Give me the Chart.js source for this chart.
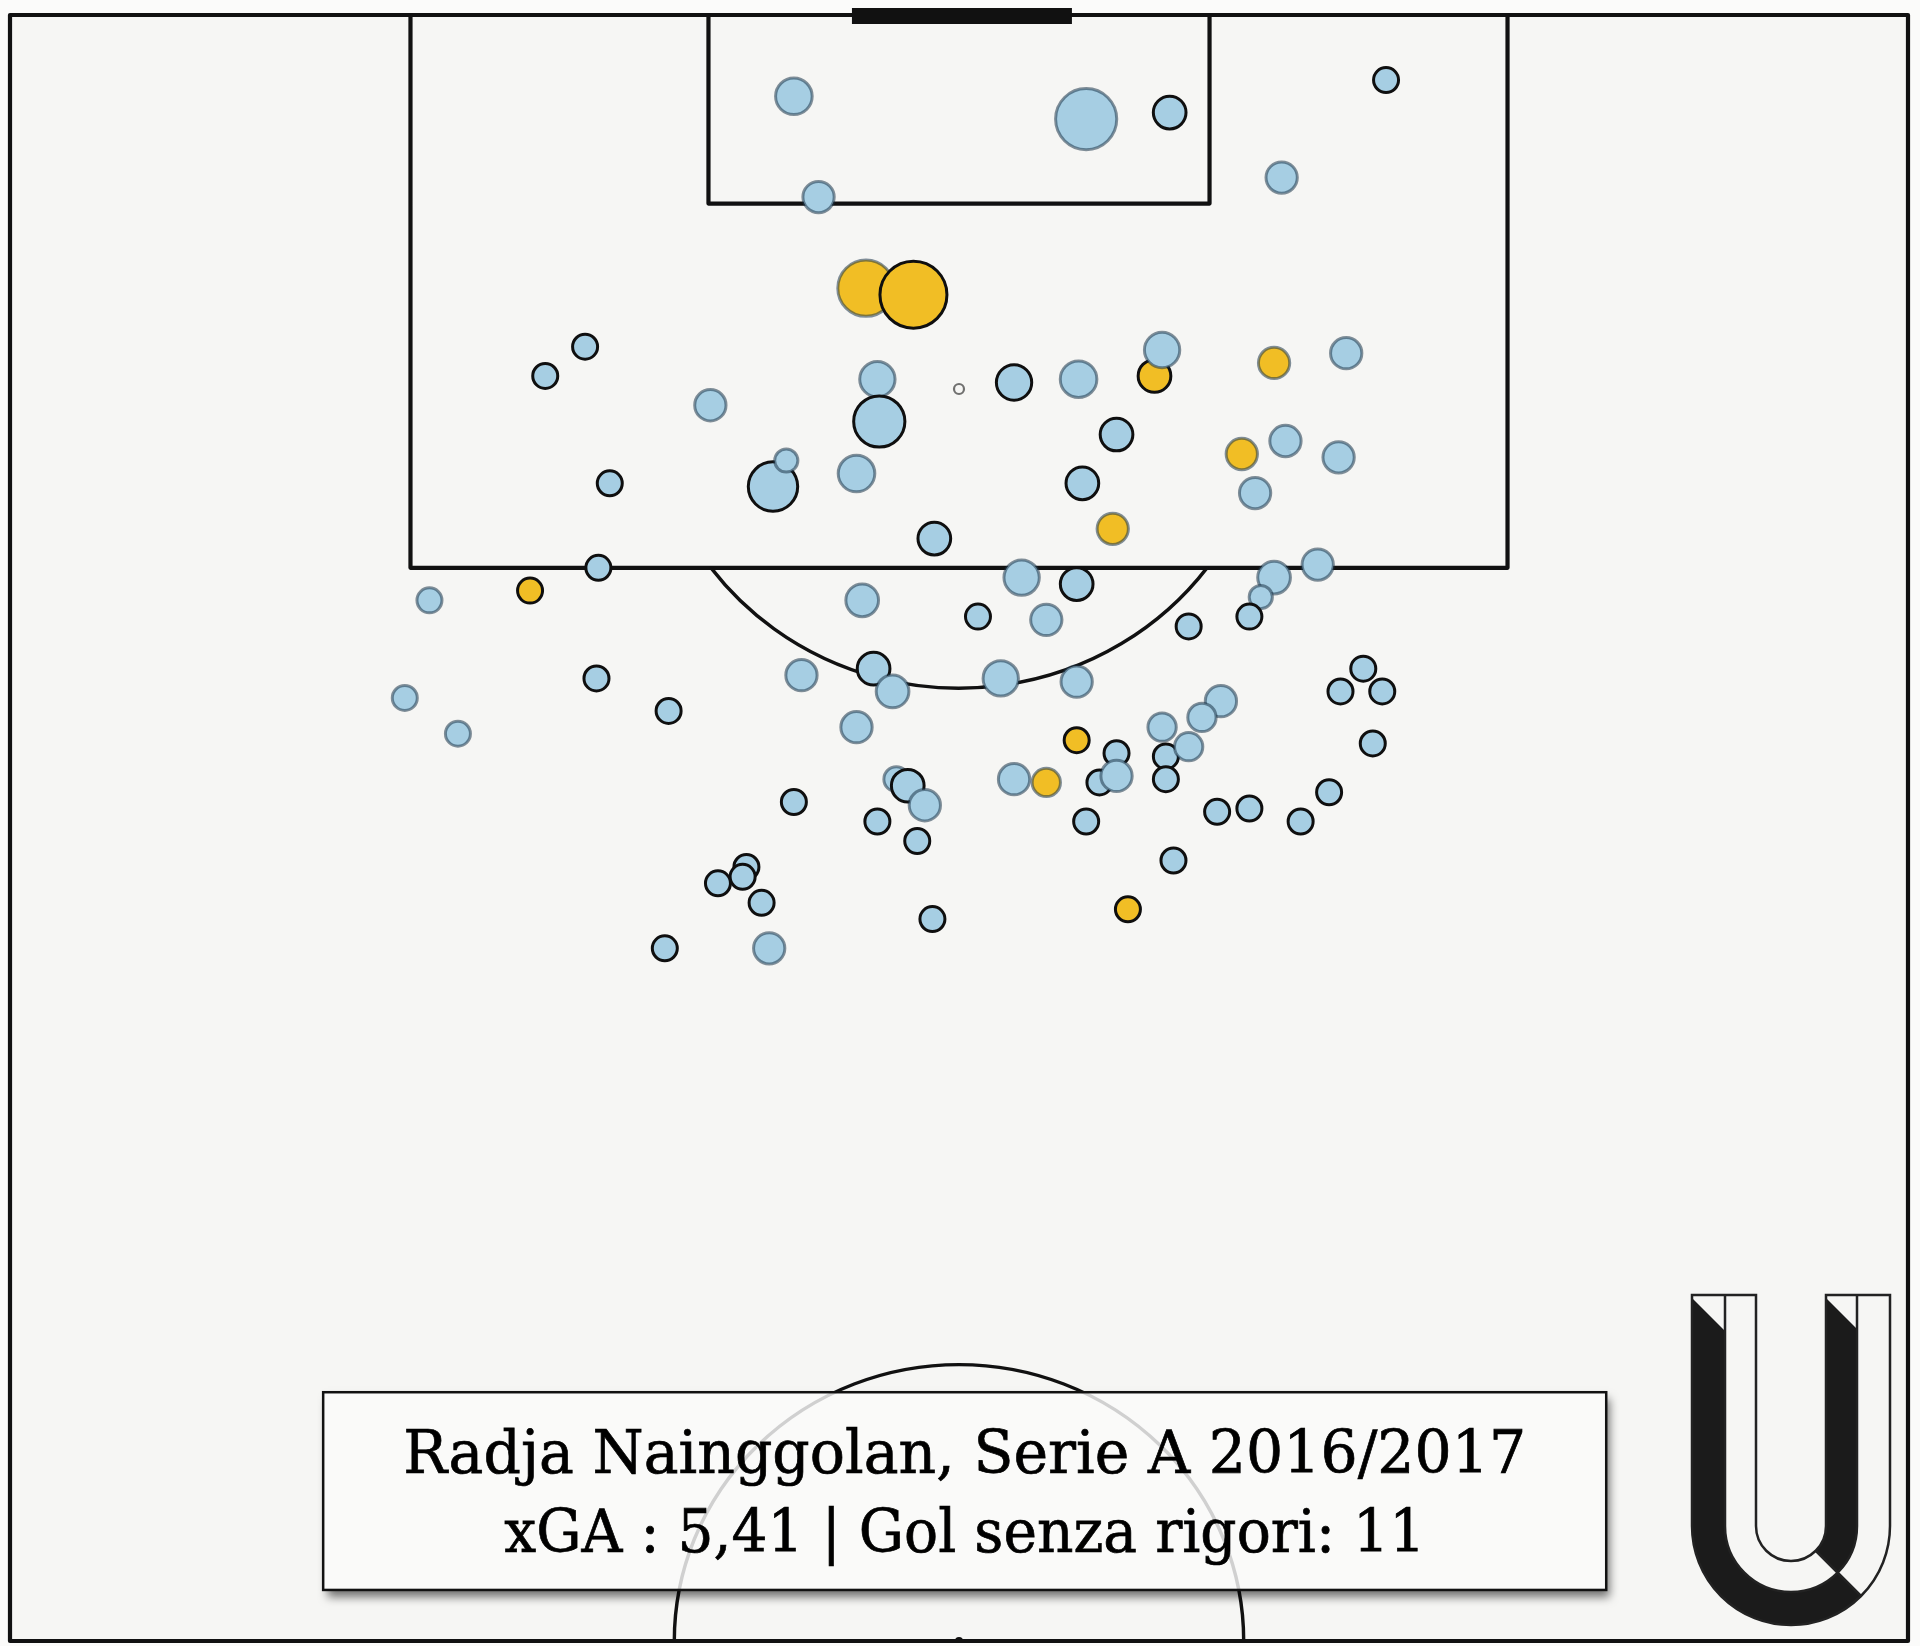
<!DOCTYPE html>
<html><head><meta charset="utf-8">
<script src="https://cdn.jsdelivr.net/npm/chart.js@4.4.1/dist/chart.umd.min.js"></script>
<style>
html,body{margin:0;padding:0;background:#fbfbfa;}
#wrap{width:1920px;height:1646px;position:relative;}
</style></head><body>
<div id="wrap"><canvas id="c"></canvas></div>
<script>
// ---- DATA (pitch coordinates: x across 0-100, y length 50-100, goal at 100) ----
const shotX = [41.3,56.7,61.1,72.5,67.0,42.6,45.1,47.6,30.3,28.2,36.9,45.7,45.8,52.9,56.3,60.3,60.7,66.6,70.4,58.3,
  67.2,64.9,70.0,65.6,56.5,40.2,40.9,44.6,31.6,48.7,58.1,31.0,27.4,22.1,53.3,56.2,44.9,66.6,68.9,65.9,
  65.3,51.0,54.6,62.1,41.7,45.5,52.2,56.2,46.5,30.9,20.8,34.7,23.6,71.3,70.1,72.3,44.6,63.8,62.8,60.7,
  56.2,71.8,60.9,62.1,58.3,60.9,52.9,54.6,57.4,58.3,46.7,47.3,48.2,41.3,45.7,47.8,56.7,63.6,65.3,69.5,
  68.0,61.3,38.8,38.6,37.3,39.6,34.5,40.0,48.6,58.9];
const shotY = [97.5,96.8,97.0,98.0,95.0,94.4,91.6,91.4,89.8,88.9,88.0,88.8,87.5,88.7,88.8,88.9,89.7,89.3,89.6,87.1,
  86.9,86.5,86.4,85.3,85.6,85.5,86.3,85.9,85.6,83.9,84.2,83.0,82.3,82.0,82.7,82.5,82.0,82.7,83.1,82.1,
  81.5,81.5,81.4,81.2,79.7,79.9,79.6,79.5,79.2,79.6,79.0,78.6,77.9,79.9,79.2,79.2,78.1,78.9,78.4,78.1,
  77.7,77.6,77.2,77.5,77.3,76.5,76.5,76.4,76.4,76.6,76.5,76.3,75.7,75.8,75.2,74.6,75.2,75.5,75.6,76.1,
  75.2,74.0,73.8,73.5,73.3,72.7,71.3,71.3,72.2,72.5];
const shotXG = [0.08,0.21,0.065,0.04,0.06,0.06,0.18,0.25,0.04,0.04,0.06,0.075,0.15,0.075,0.08,0.065,0.075,0.06,0.06,0.065,
  0.06,0.06,0.06,0.06,0.065,0.14,0.035,0.08,0.04,0.065,0.06,0.04,0.04,0.04,0.075,0.065,0.065,0.065,0.06,0.035,
  0.04,0.04,0.06,0.04,0.06,0.065,0.075,0.06,0.065,0.04,0.04,0.04,0.04,0.04,0.04,0.04,0.06,0.06,0.05,0.05,
  0.04,0.04,0.04,0.05,0.04,0.04,0.06,0.05,0.04,0.06,0.04,0.065,0.06,0.04,0.04,0.04,0.04,0.04,0.04,0.04,
  0.04,0.04,0.04,0.04,0.04,0.04,0.04,0.06,0.04,0.04];
const shotGoal = [0,0,0,0,0,0,1,1,0,0,0,0,0,0,0,1,0,1,0,0,
  0,1,0,0,0,0,0,0,0,0,1,0,1,0,0,0,0,0,0,0,
  0,0,0,0,0,0,0,0,0,0,0,0,0,0,0,0,0,0,0,0,
  1,0,0,0,0,0,0,1,0,0,0,0,0,0,0,0,0,0,0,0,
  0,0,0,0,0,0,0,0,0,1];
const shotGroup = [0,0,1,1,0,0,0,1,1,1,0,0,1,1,0,1,0,0,0,1,
  0,0,0,0,1,1,0,0,1,1,0,1,1,0,0,1,0,0,0,0,
  1,1,0,1,0,1,0,0,0,1,0,1,0,1,1,1,0,0,0,0,
  1,1,1,0,1,1,0,0,1,0,0,1,0,1,1,1,1,1,1,1,
  1,1,1,1,1,1,1,0,1,1];
const titleLine1 = 'Radja Nainggolan, Serie A 2016/2017';
const titleLine2 = 'xGA : 5,41 | Gol senza rigori: 11';

// ---- STYLE ----
const BLUE = '#a6cee3', GOLD = '#f1be25';
const EDGE_HARD = 'rgba(15,15,15,1)', EDGE_SOFT = 'rgba(30,55,75,0.55)';
const PITCH_BG = '#f6f6f4', LINE = '#111111', LW = 4.2;

const pitchPlugin = {
  id: 'pitch',
  beforeDatasetsDraw(chart) {
    const {ctx, scales: {x, y}} = chart;
    const px = v => x.getPixelForValue(v), py = v => y.getPixelForValue(v);
    ctx.save();
    ctx.fillStyle = PITCH_BG;
    ctx.fillRect(px(0), py(100), px(100) - px(0), py(50) - py(100));
    ctx.strokeStyle = LINE; ctx.lineWidth = LW; ctx.lineJoin = 'round'; ctx.lineCap = 'round';
    ctx.beginPath();
    ctx.moveTo(px(21.1), py(100)); ctx.lineTo(px(21.1), py(83)); ctx.lineTo(px(78.9), py(83)); ctx.lineTo(px(78.9), py(100));
    ctx.moveTo(px(36.8), py(100)); ctx.lineTo(px(36.8), py(94.2)); ctx.lineTo(px(63.2), py(94.2)); ctx.lineTo(px(63.2), py(100));
    ctx.stroke();
    const pcx = px(50), pcy = py(88.5);
    const rx = px(66.3) - px(50), ry = py(79.3) - py(88.5);
    const t0 = Math.asin((py(83) - pcy) / ry);
    ctx.lineWidth = LW - 0.8;
    ctx.beginPath();
    ctx.ellipse(pcx, pcy, rx, ry, 0, t0, Math.PI - t0);
    ctx.stroke();
    ctx.beginPath(); ctx.arc(pcx, pcy, 5, 0, Math.PI * 2);
    ctx.fillStyle = PITCH_BG; ctx.fill();
    ctx.lineWidth = 2.2; ctx.strokeStyle = 'rgba(40,40,40,0.65)'; ctx.stroke();
    ctx.save();
    ctx.beginPath(); ctx.rect(px(0), py(100), px(100) - px(0), py(50) - py(100)); ctx.clip();
    ctx.strokeStyle = LINE; ctx.lineWidth = LW - 0.8;
    ctx.beginPath();
    ctx.ellipse(px(50), py(50), px(65) - px(50), py(50) - py(58.5), 0, Math.PI, Math.PI * 2);
    ctx.stroke();
    ctx.beginPath(); ctx.arc(px(50), py(50), 4, 0, Math.PI * 2); ctx.fillStyle = LINE; ctx.fill();
    ctx.restore();
    ctx.strokeStyle = LINE; ctx.lineWidth = LW;
    ctx.strokeRect(px(0), py(100), px(100) - px(0), py(50) - py(100));
    ctx.lineWidth = 16; ctx.lineCap = 'butt';
    ctx.beginPath(); ctx.moveTo(px(44.36), py(100) + 1); ctx.lineTo(px(55.95), py(100) + 1); ctx.stroke();
    ctx.restore();
  }
};

function drawTextLine(ctx, text, cx, base, targetW, size) {
  ctx.font = size + 'px "DejaVu Serif", "Liberation Serif", serif';
  const w = ctx.measureText(text).width;
  ctx.save();
  ctx.translate(cx, base);
  ctx.scale(targetW / w, 1);
  ctx.textAlign = 'center'; ctx.textBaseline = 'alphabetic';
  ctx.fillStyle = '#000'; ctx.strokeStyle = '#000'; ctx.lineWidth = 0.7;
  ctx.fillText(text, 0, 0);
  ctx.strokeText(text, 0, 0);
  ctx.restore();
}

function drawLogo(ctx) {
  const cx = 1791, cy = 1526, R0 = 99, R1 = 66, R2 = 35, top = 1295;
  const c45 = Math.cos(Math.PI / 4), s45 = Math.sin(Math.PI / 4);
  ctx.save();
  ctx.fillStyle = '#1b1b1b';
  ctx.beginPath();
  ctx.moveTo(cx - R0, top + 3);
  ctx.lineTo(cx - R1, top + 3 + (R0 - R1));
  ctx.lineTo(cx - R1, cy);
  ctx.arc(cx, cy, R1, Math.PI, Math.PI / 4, true);
  ctx.lineTo(cx + R0 * c45, cy + R0 * s45);
  ctx.arc(cx, cy, R0, Math.PI / 4, Math.PI, false);
  ctx.closePath(); ctx.fill();
  ctx.beginPath();
  ctx.moveTo(cx + R2, top + 3);
  ctx.lineTo(cx + R1, top + 3 + (R1 - R2));
  ctx.lineTo(cx + R1, cy);
  ctx.arc(cx, cy, R1, 0, Math.PI / 4, false);
  ctx.lineTo(cx + R2 * c45, cy + R2 * s45);
  ctx.arc(cx, cy, R2, Math.PI / 4, 0, true);
  ctx.closePath(); ctx.fill();
  ctx.strokeStyle = '#222'; ctx.lineWidth = 2.5; ctx.lineJoin = 'miter';
  ctx.beginPath();
  ctx.moveTo(cx - R2, top); ctx.lineTo(cx - R0, top); ctx.lineTo(cx - R0, cy);
  ctx.arc(cx, cy, R0, Math.PI, 0, true);
  ctx.lineTo(cx + R0, top); ctx.lineTo(cx + R2, top); ctx.lineTo(cx + R2, cy);
  ctx.arc(cx, cy, R2, 0, Math.PI, false);
  ctx.closePath(); ctx.stroke();
  ctx.beginPath();
  ctx.moveTo(cx - R1, top); ctx.lineTo(cx - R1, cy);
  ctx.arc(cx, cy, R1, Math.PI, 0, true);
  ctx.lineTo(cx + R1, top);
  ctx.moveTo(cx + R2 * c45, cy + R2 * s45); ctx.lineTo(cx + R0 * c45, cy + R0 * s45);
  ctx.stroke();
  ctx.restore();
}

const overlayPlugin = {
  id: 'overlay',
  afterDatasetsDraw(chart) {
    const {ctx, scales: {x, y}} = chart;
    const px = v => x.getPixelForValue(v), py = v => y.getPixelForValue(v);
    const bx = px(16.5), bx2 = px(84.1), by = py(57.65), by2 = py(51.57);
    const W = chart.width, H = chart.height;
    ctx.save();
    ctx.save();
    ctx.beginPath(); ctx.rect(0, 0, W, H); ctx.rect(bx, by, bx2 - bx, by2 - by); ctx.clip('evenodd');
    ctx.shadowColor = 'rgba(0,0,0,0.55)'; ctx.shadowBlur = 9; ctx.shadowOffsetX = 4; ctx.shadowOffsetY = 7;
    ctx.fillStyle = '#eeeeee';
    ctx.fillRect(bx, by, bx2 - bx, by2 - by);
    ctx.restore();
    ctx.fillStyle = 'rgba(250,250,250,0.82)';
    ctx.fillRect(bx, by, bx2 - bx, by2 - by);
    ctx.strokeStyle = '#111'; ctx.lineWidth = 2.5;
    ctx.strokeRect(bx, by, bx2 - bx, by2 - by);
    const mid = (bx + bx2) / 2;
    drawTextLine(ctx, titleLine1, mid, 1473, 1123, 60);
    drawTextLine(ctx, titleLine2, mid, 1552, 921, 60);
    ctx.restore();
    drawLogo(ctx);
  }
};

const points = shotX.map((v, i) => ({x: v, y: shotY[i], r: 70 * Math.sqrt(shotXG[i]) - 1.5}));

new Chart(document.getElementById('c'), {
  type: 'bubble',
  data: {
    datasets: [{
      data: points,
      backgroundColor: shotGoal.map(g => g ? GOLD : BLUE),
      borderColor: shotGroup.map(g => g ? EDGE_HARD : EDGE_SOFT),
      borderWidth: 3,
      hoverRadius: 0,
      clip: false
    }]
  },
  options: {
    responsive: true,
    maintainAspectRatio: false,
    animation: false,
    events: [],
    layout: {autoPadding: false, padding: {left: 10, right: 12, top: 15, bottom: 5}},
    plugins: {legend: {display: false}, tooltip: {enabled: false}},
    scales: {
      x: {type: 'linear', min: 0, max: 100, display: false},
      y: {type: 'linear', min: 50, max: 100, display: false}
    }
  },
  plugins: [pitchPlugin, overlayPlugin]
});
</script>
</body></html>
